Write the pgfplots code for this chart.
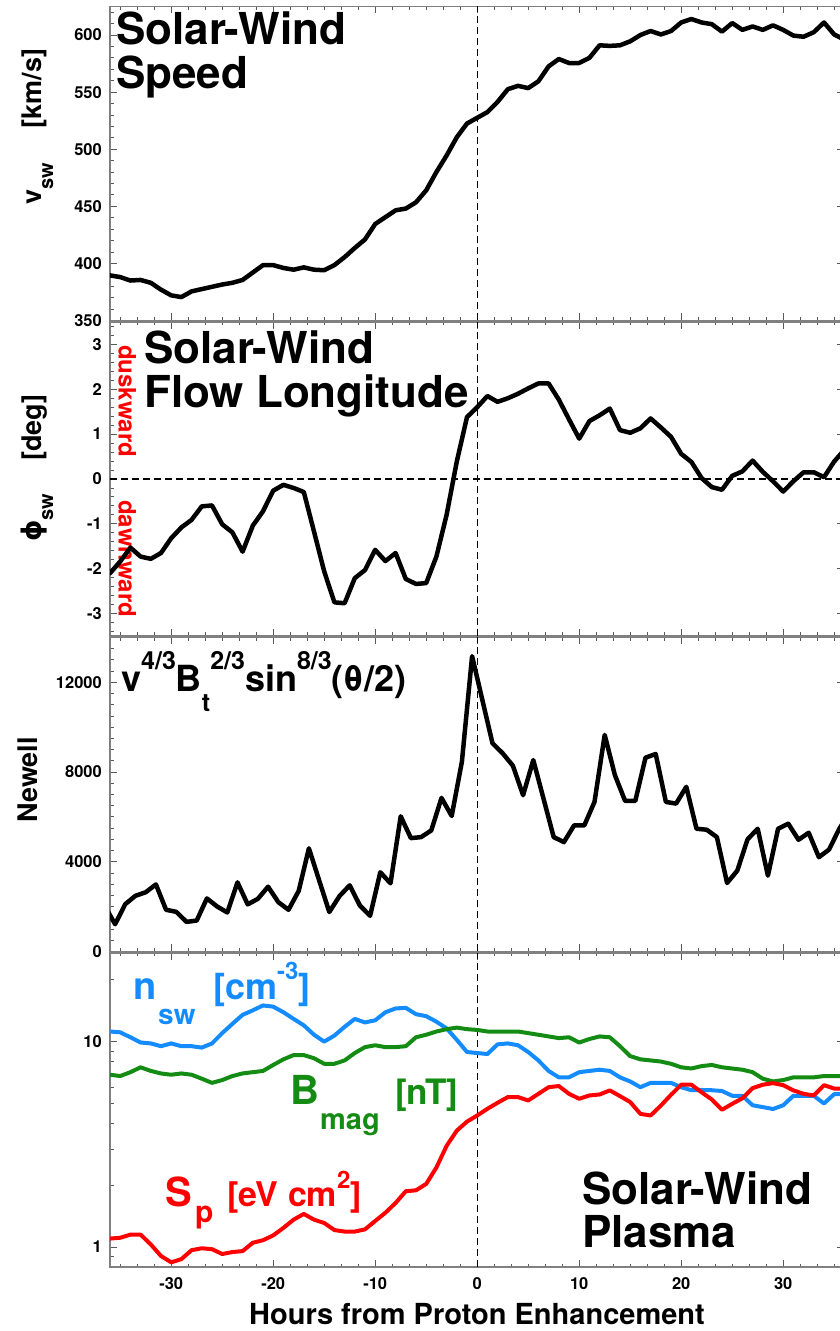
\documentclass[border=0pt]{standalone}
\usepackage{pgfplots}
\pgfplotsset{compat=1.18}
\usepackage{pgfplotstable}
\usepackage{fontspec}
\setmainfont{TeX Gyre Heros}
\newfontfamily\symfont{DejaVu Sans}

\definecolor{densblue}{RGB}{20,140,255}
\definecolor{magreen}{RGB}{20,140,20}
\definecolor{specred}{RGB}{255,0,0}
\definecolor{framegray}{RGB}{128,128,128}

\newcommand{\fs}[1]{\fontsize{#1}{#1}\selectfont}

% hourly solar-wind speed [km/s]
\pgfplotstableread{
h v
-36 389.5
-35 388
-34 385
-33 385.5
-32 383
-31 377
-30 372
-29 370.5
-28 375.5
-27 377.5
-26 379.5
-25 381.5
-24 383
-23 385.5
-22 392
-21 398.5
-20 398.5
-19 396
-18 394.5
-17 396.5
-16 394.5
-15 394
-14 398.5
-13 405.5
-12 413.5
-11 421
-10 434.5
-9 440.5
-8 446.5
-7 448
-6 453.5
-5 464
-4 480
-3 494.5
-2 510.5
-1 522.5
0 527.5
1 532.5
2 541.5
3 552.5
4 555.5
5 553.5
6 559.5
7 572.5
8 579
9 575.5
10 575.5
11 580
12 591
13 590.5
14 591
15 594.5
16 600
17 603.5
18 600.5
19 603.5
20 611
21 614
22 611
23 609.5
24 603
25 610.5
26 604.5
27 607.5
28 604.5
29 608.5
30 604.5
31 599.5
32 598.5
33 602.5
34 611
35 600.5
36 596
}\speedtab

% hourly flow longitude [deg]
\pgfplotstableread{
h phi
-36 -2.10
-35 -1.84
-34 -1.53
-33 -1.73
-32 -1.78
-31 -1.65
-30 -1.32
-29 -1.08
-28 -0.91
-27 -0.61
-26 -0.59
-25 -1.01
-24 -1.19
-23 -1.62
-22 -1.04
-21 -0.72
-20 -0.26
-19 -0.13
-18 -0.20
-17 -0.29
-16 -1.17
-15 -2.06
-14 -2.75
-13 -2.77
-12 -2.21
-11 -2.03
-10 -1.58
-9 -1.83
-8 -1.65
-7 -2.23
-6 -2.34
-5 -2.32
-4 -1.73
-3 -0.80
-2 0.39
-1 1.38
0 1.60
1 1.85
2 1.72
3 1.80
4 1.90
5 2.02
6 2.13
7 2.13
8 1.77
9 1.33
10 0.90
11 1.29
12 1.42
13 1.57
14 1.09
15 1.03
16 1.13
17 1.35
18 1.15
19 0.94
20 0.56
21 0.38
22 0.02
23 -0.18
24 -0.24
25 0.07
26 0.17
27 0.41
28 0.16
29 -0.05
30 -0.28
31 -0.05
32 0.15
33 0.15
34 0.04
35 0.39
36 0.65
}\phitab

% Newell coupling function, hourly values centred on the half hour
\pgfplotstableread{
h N
-36.5 2024
-35.5 1216
-34.5 2112
-33.5 2486
-32.5 2640
-31.5 2990
-30.5 1858
-29.5 1769
-28.5 1320
-27.5 1380
-26.5 2366
-25.5 2008
-24.5 1739
-23.5 3083
-22.5 2100
-21.5 2350
-20.5 2889
-19.5 2200
-18.5 1860
-17.5 2700
-16.5 4600
-15.5 3180
-14.5 1760
-13.5 2470
-12.5 2950
-11.5 2050
-10.5 1590
-9.5 3532
-8.5 3040
-7.5 6027
-6.5 5055
-5.5 5100
-4.5 5399
-3.5 6848
-2.5 6041
-1.5 8462
-0.5 13168
0.5 11226
1.5 9283
2.5 8835
3.5 8282
4.5 6968
5.5 8536
6.5 6818
7.5 5100
8.5 4876
9.5 5623
10.5 5623
11.5 6669
12.5 9657
13.5 7864
14.5 6714
15.5 6714
16.5 8641
17.5 8806
18.5 6669
19.5 6594
20.5 7341
21.5 5474
22.5 5429
23.5 5100
24.5 3053
25.5 3606
26.5 4996
27.5 5474
28.5 3382
29.5 5474
30.5 5698
31.5 4981
32.5 5294
33.5 4204
34.5 4548
35.5 5474
36.5 6200
}\newelltab

% plasma: density n [cm^-3], field magnitude B [nT], specific entropy S [eV cm^2]
\pgfplotstableread{
h n B S
-36 11.2 6.9 1.10
-35 11.1 6.8 1.11
-34 10.5 7.1 1.15
-33 9.9 7.5 1.15
-32 9.8 7.2 1.03
-31 9.5 7.0 0.905
-30 9.8 6.9 0.843
-29 9.5 7.0 0.874
-28 9.5 6.9 0.966
-27 9.35 6.6 0.987
-26 9.8 6.3 0.977
-25 11.0 6.5 0.925
-24 12.2 6.8 0.946
-23 13.5 7.0 0.956
-22 14.2 7.1 1.05
-21 15.0 7.2 1.08
-20 14.8 7.7 1.14
-19 13.9 8.2 1.24
-18 12.9 8.6 1.36
-17 12.0 8.6 1.45
-16 10.8 8.3 1.36
-15 10.0 7.8 1.31
-14 10.7 7.8 1.21
-13 11.8 8.1 1.19
-12 12.9 8.8 1.19
-11 12.4 9.4 1.22
-10 12.7 9.6 1.34
-9 13.9 9.4 1.47
-8 14.5 9.4 1.64
-7 14.6 9.5 1.87
-6 13.6 10.5 1.89
-5 13.3 10.8 2.03
-4 12.5 11.2 2.44
-3 11.6 11.5 3.11
-2 10.2 11.7 3.69
-1 8.9 11.5 4.08
0 8.8 11.4 4.37
1 8.7 11.2 4.71
2 9.7 11.2 5.04
3 9.8 11.2 5.37
4 9.6 11.2 5.37
5 8.9 11.0 5.17
6 8.1 10.8 5.57
7 7.2 10.6 6.00
8 6.7 10.4 6.08
9 6.7 10.5 5.57
10 7.1 9.9 5.27
11 7.2 10.3 5.47
12 7.3 10.6 5.53
13 7.2 10.5 5.79
14 6.7 9.5 5.43
15 6.4 8.5 5.08
16 6.0 8.2 4.45
17 6.3 8.1 4.37
18 6.3 8.0 4.88
19 6.3 7.8 5.51
20 6.0 7.5 6.17
21 5.8 7.4 6.17
22 5.8 7.6 5.67
23 5.8 7.7 5.23
24 5.75 7.5 4.66
25 5.45 7.4 4.98
26 5.45 7.3 5.30
27 4.9 7.1 5.94
28 4.8 6.6 6.17
29 4.7 6.4 6.28
30 4.9 6.5 6.14
31 5.45 6.7 5.79
32 5.45 6.7 5.57
33 5.45 6.7 5.47
34 5.0 6.8 6.14
35 5.55 6.8 5.91
36 5.55 6.8 5.91
}\plasmatab

\pgfplotsset{
  swpanel/.style={
    scale only axis, width=734.4pt, height=314pt,
    xmin=-36, xmax=36,
    xtick={-30,-20,...,30},
    minor xtick={-35,-33.333,-31.667,-28.333,-26.667,-25,-23.333,-21.667,
      -18.333,-16.667,-15,-13.333,-11.667,-8.333,-6.667,-5,-3.333,-1.667,
      1.667,3.333,5,6.667,8.333,11.667,13.333,15,16.667,18.333,
      21.667,23.333,25,26.667,28.333,31.667,33.333,35},
    tick align=inside,
    major tick length=7pt, minor tick length=3.5pt,
    every tick/.style={black!65, line width=0.9pt},
    axis line style={framegray, line width=1.4pt},
    xticklabels={},
    tick label style={font=\fs{16.5}\bfseries},
    yticklabel style={inner sep=0pt, xshift=-8pt},
    scaled y ticks=false,
  },
  swline/.style={black, line width=4.5pt, line join=round, line cap=round},
  plasmaline/.style={line width=4pt, line join=round, line cap=round},
  zeroline/.style={black, line width=1.2pt, dash pattern=on 7pt off 4pt},
}
\tikzset{lbl/.style={inner sep=0pt, anchor=base west}}

\begin{document}
\begin{tikzpicture}
\path[use as bounding box] (0,0) rectangle (839pt,1331pt);

% flow-direction hints, drawn underneath the curve
\node[lbl, rotate=-90, text=specred, font=\fs{24}\bfseries] at (118.5pt,986pt) {duskward};
\node[lbl, rotate=-90, text=specred, font=\fs{24}\bfseries] at (118.5pt,831pt) {dawnward};

% ---- solar-wind speed
\begin{axis}[swpanel, at={(110pt,1010.5pt)}, anchor=south west,
  ymin=350, ymax=625, ytick={350,400,...,600},
  yticklabels={350,400,450,500,550,600},
  minor ytick={360,370,...,620}]
\addplot[zeroline] coordinates {(0,350) (0,625)};
\addplot[swline] table[x=h, y=v] {\speedtab};
\end{axis}

% ---- flow longitude
\begin{axis}[swpanel, at={(110pt,695pt)}, anchor=south west,
  ymin=-3.5, ymax=3.5, ytick={-3,-2,...,3},
  yticklabels={-3,-2,-1,0,1,2,3},
  minor ytick={-3.4,-3.2,-2.8,-2.6,-2.4,-2.2,-1.8,-1.6,-1.4,-1.2,-0.8,-0.6,-0.4,-0.2,
    0.2,0.4,0.6,0.8,1.2,1.4,1.6,1.8,2.2,2.4,2.6,2.8,3.2,3.4}]
\addplot[zeroline] coordinates {(0,-3.5) (0,3.5)};
\addplot[zeroline] coordinates {(-36,0) (36,0)};
\addplot[swline] table[x=h, y=phi] {\phitab};
\end{axis}

% ---- Newell coupling
\begin{axis}[swpanel, at={(110pt,379.5pt)}, anchor=south west,
  ymin=0, ymax=14000, ytick={0,4000,8000,12000},
  yticklabels={0,4000,8000,12000},
  minor ytick={500,1000,...,13500}]
\addplot[zeroline] coordinates {(0,0) (0,14000)};
\addplot[swline] table[x=h, y=N] {\newelltab};
\end{axis}

% ---- plasma
\begin{axis}[swpanel, at={(110pt,64pt)}, anchor=south west,
  ymode=log, ymin=0.8, ymax=27, ytick={1,10}, yticklabels={1,10},
  minor ytick={0.9,2,3,4,5,6,7,8,9,20},
  xticklabels={-30,-20,-10,0,10,20,30},
  xticklabel style={inner sep=0pt, yshift=-10pt}]
\addplot[zeroline] coordinates {(0,0.8) (0,27)};
\addplot[plasmaline, densblue] table[x=h, y=n] {\plasmatab};
\addplot[plasmaline, magreen] table[x=h, y=B] {\plasmatab};
\addplot[plasmaline, specred] table[x=h, y=S] {\plasmatab};
\end{axis}

% panel titles
\node[lbl, font=\fs{44}\bfseries] at (116pt,1286pt) {Solar-Wind};
\node[lbl, font=\fs{44}\bfseries] at (116pt,1242.7pt) {Speed};
\node[lbl, font=\fs{44}\bfseries] at (144pt,967.7pt) {Solar-Wind};
\node[lbl, font=\fs{44}\bfseries] at (144pt,923.7pt) {Flow Longitude};
\node[lbl, font=\fs{36}\bfseries] at (121pt,639.3pt)
  {v\raisebox{22pt}{\fs{25}4/3}B\raisebox{-20pt}{\fs{25}t}\raisebox{22pt}{\fs{25}2/3}sin\raisebox{22pt}{\fs{25}8/3}(θ/2)};
\node[lbl, font=\fs{44}\bfseries] at (582pt,126pt) {Solar-Wind};
\node[lbl, font=\fs{44}\bfseries] at (582pt,83.5pt) {Plasma};

% plasma labels
\node[lbl, text=densblue, font=\fs{38}\bfseries] at (133pt,331pt) {n};
\node[lbl, text=densblue, font=\fs{28}\bfseries] at (158pt,306pt) {sw};
\node[lbl, text=densblue, font=\fs{36}\bfseries] at (213pt,331pt) {[cm\raisebox{20pt}{\fs{24}-3}]};
\node[lbl, text=magreen, font=\fs{40}\bfseries] at (290pt,226pt) {B};
\node[lbl, text=magreen, font=\fs{29}\bfseries] at (320pt,201pt) {mag};
\node[lbl, text=magreen, font=\fs{35}\bfseries] at (395pt,226pt) {[nT]};
\node[lbl, text=specred, font=\fs{40}\bfseries] at (165pt,124pt) {S};
\node[lbl, text=specred, font=\fs{30}\bfseries] at (195pt,108pt) {p};
\node[lbl, text=specred, font=\fs{34}\bfseries] at (227pt,124pt) {[eV cm\raisebox{18pt}{\fs{24}2}]};

% axis labels
\node[lbl, rotate=90, font=\fs{27}\bfseries] at (41pt,1126pt)
  {v\raisebox{-12pt}{\fs{20}sw}\hspace{35pt}[km/s]};
\node[lbl, rotate=90, font=\fs{27}\bfseries] at (41pt,789pt)
  {{\symfont ϕ}\raisebox{-12pt}{\fs{20}sw}\hspace{33pt}[deg]};
\node[inner sep=0pt, anchor=base, rotate=90, font=\fs{27}\bfseries] at (37.5pt,551pt) {Newell};
\node[inner sep=0pt, anchor=base, font=\fs{29}\bfseries] at (477pt,6pt) {Hours from Proton Enhancement};
\end{tikzpicture}
\end{document}
